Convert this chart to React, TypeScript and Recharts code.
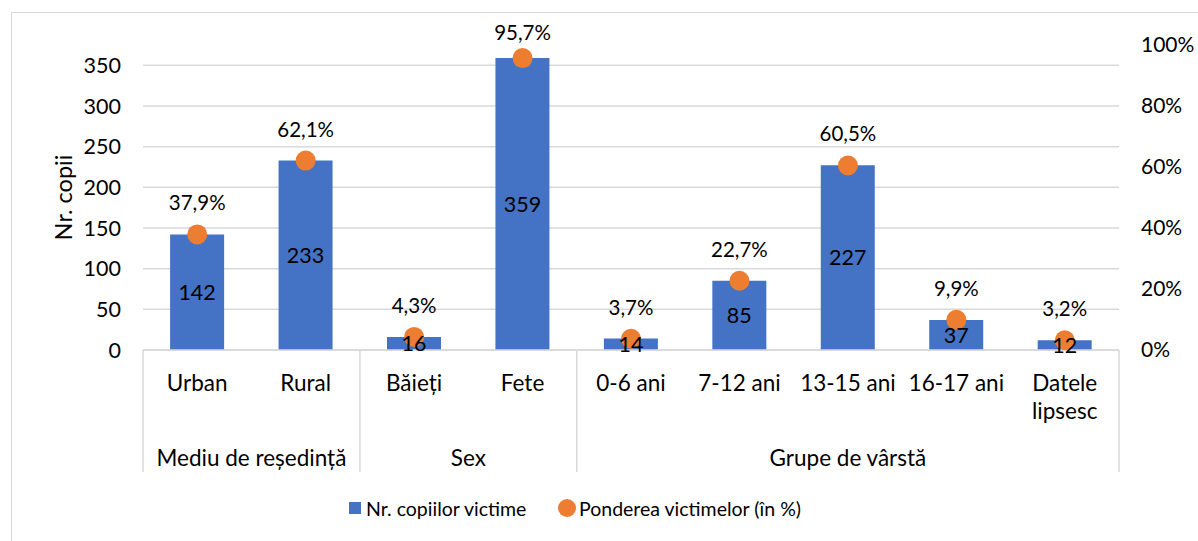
import React from 'react';
import { ComposedChart, Bar, Line, XAxis, YAxis, CartesianGrid, Legend, LabelList } from 'recharts';

const categories = ['Urban', 'Rural', 'Băieți', 'Fete', '0-6 ani', '7-12 ani', '13-15 ani', '16-17 ani', 'Datele lipsesc'];
const groups = [
  'Mediu de reședință', 'Mediu de reședință',
  'Sex', 'Sex',
  'Grupe de vârstă', 'Grupe de vârstă', 'Grupe de vârstă', 'Grupe de vârstă', 'Grupe de vârstă',
];
const victims = [142, 233, 16, 359, 14, 85, 227, 37, 12];
const shares = [37.9, 62.1, 4.3, 95.7, 3.7, 22.7, 60.5, 9.9, 3.2];
const countTicks = [0, 50, 100, 150, 200, 250, 300, 350];
const countMax = 375;
const shareTicks = [0, 20, 40, 60, 80, 100];

const data = categories.map((name, i) => ({ name, group: groups[i], victims: victims[i], share: shares[i] }));

const FONT = 'Lato, "Liberation Sans", sans-serif';
const NUM = 21.5; // digits
const TXT = 22.5; // words
const GRID = '#d9d9d9';

const pct = (v: number) => `${v.toFixed(1).replace('.', ',')}%`;

const CategoryTick = (props: any) => {
  const { x, y, payload } = props;
  const i = props.index ?? categories.indexOf(payload.value);
  const half = payload?.offset || 54;
  const name = categories[i];
  const lines = name.length > 10 ? name.split(' ') : [name];
  const isStart = i === 0 || groups[i] !== groups[i - 1];
  const count = groups.filter(g => g === groups[i]).length;
  const isLast = i === categories.length - 1;
  return (
    <g>
      {lines.map((l, k) => (
        <text key={k} x={x} y={y + 32 + k * 28} textAnchor="middle" dominantBaseline="central"
          fontFamily={FONT} fontSize={TXT} fill="#000">{l}</text>
      ))}
      {isStart && (
        <>
          <line x1={x - half} x2={x - half} y1={y} y2={y + 122} stroke={GRID} strokeWidth={1.5} />
          <text x={x - half + count * half} y={y + 107} textAnchor="middle" dominantBaseline="central"
            fontFamily={FONT} fontSize={TXT} fill="#000">{groups[i]}</text>
        </>
      )}
      {isLast && <line x1={x + half} x2={x + half} y1={y} y2={y + 122} stroke={GRID} strokeWidth={1.5} />}
    </g>
  );
};

// percent label above each dot; kept inside the chart area near the top like Excel does
const ShareLabel = (props: any) => {
  const { x, y, value } = props;
  const cy = Math.max(y - 32, 32);
  return (
    <text x={x} y={cy} textAnchor="middle" dominantBaseline="central" fontFamily={FONT} fontSize={20.5} fill="#000">
      {pct(Number(value))}
    </text>
  );
};

const renderLegend = (props: any) => {
  const items = props.payload || [];
  const lefts = [349, 558];
  return (
    <div style={{ position: 'relative', height: 66, fontFamily: FONT, fontSize: 19.5, color: '#000' }}>
      {items.map((it: any, k: number) => (
        <div key={k} style={{ position: 'absolute', left: lefts[k], top: 0, height: 66, display: 'flex', alignItems: 'center', whiteSpace: 'nowrap' }}>
          {k === 0 ? (
            <span style={{ display: 'inline-block', width: 12, height: 12, background: '#4472c4', marginRight: 5 }} />
          ) : (
            <span style={{ display: 'inline-block', width: 18, height: 18, borderRadius: 9, background: '#ed7d31', marginRight: 3 }} />
          )}
          {it.value}
        </div>
      ))}
    </div>
  );
};

const AxisTitle = (props: any) => {
  const vb = props.viewBox || {};
  const cx = (vb.x || 0) + 63;
  const cy = (vb.y || 0) + (vb.height || 0) / 2;
  return (
    <text x={cx} y={cy} transform={`rotate(-90 ${cx} ${cy})`} textAnchor="middle" dominantBaseline="central"
      fontFamily={FONT} fontSize={23.5} fill="#000">Nr. copii</text>
  );
};

export default function App() {
  return (
    <div>
      <div style={{ position: 'absolute', left: 11, top: 12, width: 1200, height: 540, border: `1.5px solid ${GRID}` }} />
      <div style={{ position: 'absolute', left: 0, top: 0 }}>
        <ComposedChart width={1198} height={541} data={data} margin={{ top: 45, right: 0, bottom: 0, left: 0 }} barCategoryGap="25%">
          <CartesianGrid yAxisId="left" vertical={false} syncWithTicks stroke={GRID} strokeWidth={1.5} />
          <XAxis dataKey="name" height={125} interval={0} tickLine={false} tickSize={0} tickMargin={0}
            axisLine={{ stroke: GRID, strokeWidth: 1.5 }} tick={<CategoryTick />} />
          <YAxis yAxisId="left" width={143} domain={[0, countMax]} ticks={countTicks} axisLine={false} tickLine={false}
            tickSize={0} tickMargin={22} tick={{ fontFamily: FONT, fontSize: NUM, fill: '#000' }}
            label={<AxisTitle />} />
          <YAxis yAxisId="right" orientation="right" width={79} domain={[0, 100]} ticks={shareTicks} axisLine={false}
            tickLine={false} tickSize={0} tickMargin={22} tickFormatter={(v: number) => `${v}%`}
            tick={{ fontFamily: FONT, fontSize: 21, fill: '#000', textAnchor: 'start' }} />
          <Legend verticalAlign="bottom" content={renderLegend} />
          <Bar yAxisId="left" dataKey="victims" name="Nr. copiilor victime" fill="#4472c4" isAnimationActive={false}>
            <LabelList dataKey="victims" position="center" fill="#000" fontFamily={FONT} fontSize={NUM} />
          </Bar>
          <Line yAxisId="right" dataKey="share" name="Ponderea victimelor (în %)" stroke="none" activeDot={false}
            dot={{ r: 10, fill: '#ed7d31', stroke: 'none', strokeWidth: 0 }} isAnimationActive={false}>
            <LabelList dataKey="share" content={<ShareLabel />} />
          </Line>
        </ComposedChart>
      </div>
    </div>
  );
}
